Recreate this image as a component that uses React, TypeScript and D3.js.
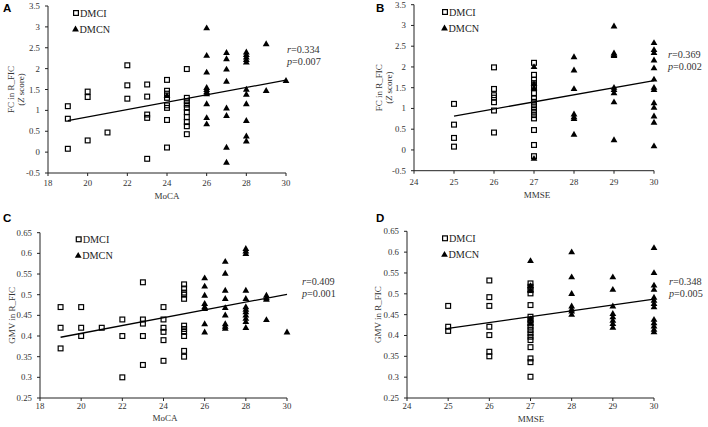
import React from "react";
import * as d3 from "d3";

// ---------- DATA ----------
type Col = [number, number[]];

// Panel A: MoCA vs FC in R_FIC
const moca_fc_dmci: Col[] = [
  [19, [1.1, 0.8, 0.08]],
  [20, [1.45, 1.32, 0.28]],
  [21, [0.47]],
  [22, [2.08, 1.6, 1.28]],
  [23, [1.62, 1.33, 0.9, 0.82, -0.16]],
  [24, [1.73, 1.47, 1.4, 1.3, 1.12, 1.06, 0.77, 0.11]],
  [25, [1.99, 1.3, 1.22, 1.14, 1.06, 0.96, 0.84, 0.72, 0.62, 0.43]],
];
const moca_fc_dmcn: Col[] = [
  [24, [1.36]],
  [26, [2.98, 2.32, 1.92, 1.55, 1.5, 1.45, 1.4, 1.16, 0.83, 0.68]],
  [27, [2.39, 2.24, 1.99, 1.7, 1.06, 0.88, 0.12, -0.24]],
  [28, [2.4, 2.34, 2.28, 2.22, 2.16, 1.51, 1.39, 1.16, 0.76, 0.39, 0.27]],
  [29, [2.6, 1.48]],
  [30, [1.72]],
];
const moca_fc_fit: [number, number][] = [[19, 0.756], [30, 1.724]];

// Panel B: MMSE vs FC in R_FIC
const mmse_fc_dmci: Col[] = [
  [25, [1.11, 0.61, 0.29, 0.08]],
  [26, [1.99, 1.47, 1.32, 1.26, 1.15, 0.95, 0.42]],
  [27, [2.1, 1.81, 1.69, 1.61, 1.49, 1.37, 1.24, 1.16, 1.08, 1.0, 0.92, 0.84, 0.76, 0.48, 0.12, -0.15]],
];
const mmse_fc_dmcn: Col[] = [
  [27, [2.01, 1.6, 1.5, -0.2]],
  [28, [2.25, 1.93, 1.48, 0.87, 0.8, 0.76, 0.38]],
  [29, [2.99, 2.34, 2.3, 2.28, 1.51, 1.46, 1.38, 1.16, 0.25]],
  [30, [2.59, 2.42, 2.35, 2.17, 1.98, 1.71, 1.51, 1.46, 1.14, 1.03, 0.82, 0.67, 0.1]],
];
const mmse_fc_fit: [number, number][] = [[25, 0.817], [30, 1.67]];

// Panel C: MoCA vs GMV in R_FIC
const moca_gmv_dmci: Col[] = [
  [19, [0.47, 0.42, 0.37]],
  [20, [0.47, 0.42, 0.4]],
  [21, [0.42]],
  [22, [0.44, 0.4, 0.3]],
  [23, [0.53, 0.44, 0.43, 0.4, 0.33]],
  [24, [0.47, 0.44, 0.42, 0.41, 0.39, 0.34]],
  [25, [0.525, 0.515, 0.505, 0.5, 0.49, 0.425, 0.417, 0.41, 0.4, 0.364, 0.35]],
];
const moca_gmv_dmcn: Col[] = [
  [26, [0.541, 0.521, 0.499, 0.479, 0.471, 0.467, 0.43, 0.41]],
  [27, [0.581, 0.552, 0.511, 0.491, 0.469, 0.451, 0.43, 0.424, 0.419]],
  [28, [0.612, 0.606, 0.6, 0.511, 0.491, 0.471, 0.465, 0.459, 0.451, 0.443, 0.435, 0.421]],
  [29, [0.499, 0.493, 0.489, 0.44]],
  [30, [0.41]],
];
const moca_gmv_fit: [number, number][] = [[19, 0.397], [30, 0.501]];

// Panel D: MMSE vs GMV in R_FIC
const mmse_gmv_dmci: Col[] = [
  [25, [0.471, 0.421, 0.411]],
  [26, [0.532, 0.492, 0.471, 0.421, 0.401, 0.361, 0.35]],
  [27, [0.525, 0.517, 0.509, 0.501, 0.473, 0.445, 0.437, 0.429, 0.421, 0.413, 0.405, 0.397, 0.389, 0.372, 0.345, 0.336, 0.301]],
];
const mmse_gmv_dmcn: Col[] = [
  [27, [0.58, 0.52, 0.51, 0.44, 0.43]],
  [28, [0.601, 0.541, 0.501, 0.471, 0.464, 0.459, 0.451]],
  [29, [0.541, 0.511, 0.471, 0.453, 0.445, 0.437, 0.429, 0.42]],
  [30, [0.611, 0.551, 0.521, 0.511, 0.492, 0.485, 0.477, 0.469, 0.439, 0.431, 0.423, 0.415, 0.409]],
];
const mmse_gmv_fit: [number, number][] = [[25, 0.417], [30, 0.487]];

// Ticks
const mocaTicks = [18, 20, 22, 24, 26, 28, 30];
const mmseTicks = [24, 25, 26, 27, 28, 29, 30];
const fcTicks = [-0.5, 0, 0.5, 1, 1.5, 2, 2.5, 3, 3.5];
const gmvTicks = [0.25, 0.3, 0.35, 0.4, 0.45, 0.5, 0.55, 0.6, 0.65];

const legendLabels = ["DMCI", "DMCN"];
const statsA = ["0.334", "0.007"];
const statsB = ["0.369", "0.002"];
const statsC = ["0.409", "0.001"];
const statsD = ["0.348", "0.005"];

// ---------- RENDER ----------
const SERIF = "'Liberation Serif', 'Times New Roman', serif";
const SANS = "'Liberation Sans', Arial, sans-serif";
const fmt = (v: number) => String(+v.toFixed(2));

const flat = (cols: Col[]) => cols.flatMap(([x, ys]) => ys.map((y) => [x, y] as [number, number]));

interface PanelProps {
  letter: string;
  letterPos: [number, number];
  left: number;
  right: number;
  top: number;
  bottom: number;
  xTicks: number[];
  yTicks: number[];
  dmci: Col[];
  dmcn: Col[];
  fit: [number, number][];
  xTitle: string;
  xTitlePos: [number, number];
  xTickBaseline: number;
  yTitle: React.ReactNode[];
  yTitleX: number[];
  legendPos: [number, number];
  stats: string[];
  statsPos: [number, number];
}

function Panel(p: PanelProps) {
  const x = d3.scaleLinear().domain([p.xTicks[0], p.xTicks[p.xTicks.length - 1]]).range([p.left, p.right]);
  const y = d3.scaleLinear().domain([p.yTicks[0], p.yTicks[p.yTicks.length - 1]]).range([p.bottom, p.top]);
  const tri = d3.symbol(d3.symbolTriangle, 20)()!;
  const line = d3.line<[number, number]>().x((d) => x(d[0])).y((d) => y(d[1]));
  const sq = 4.8;
  const yMid = (p.top + p.bottom) / 2;
  const [lx, ly] = p.legendPos;
  return (
    <g>
      <text x={p.letterPos[0]} y={p.letterPos[1]} fontFamily={SANS} fontWeight="bold" fontSize={11.5} fill="#000">
        {p.letter}
      </text>
      {/* axes */}
      <line x1={p.left} x2={p.left} y1={p.top} y2={p.bottom} stroke="#222" strokeWidth={1} />
      <line x1={p.left} x2={p.right} y1={p.bottom} y2={p.bottom} stroke="#222" strokeWidth={1} />
      {p.yTicks.map((t) => (
        <g key={"y" + t}>
          <line x1={p.left - 3} x2={p.left} y1={y(t)} y2={y(t)} stroke="#222" />
          <text x={p.left - 8} y={y(t) + 3} textAnchor="end" fontFamily={SERIF} fontSize={8.8} fill="#333">
            {fmt(t)}
          </text>
        </g>
      ))}
      {p.xTicks.map((t) => (
        <g key={"x" + t}>
          <line x1={x(t)} x2={x(t)} y1={p.bottom} y2={p.bottom + 3} stroke="#222" />
          <text x={x(t)} y={p.xTickBaseline} textAnchor="middle" fontFamily={SERIF} fontSize={8.8} fill="#333">
            {fmt(t)}
          </text>
        </g>
      ))}
      <text x={p.xTitlePos[0]} y={p.xTitlePos[1]} textAnchor="middle" fontFamily={SERIF} fontSize={9} fill="#333">
        {p.xTitle}
      </text>
      {p.yTitle.map((t, i) => (
        <text
          key={i}
          transform={`translate(${p.yTitleX[i] + 3},${yMid}) rotate(-90)`}
          textAnchor="middle"
          fontFamily={SERIF}
          fontSize={9}
          fill="#333"
        >
          {t}
        </text>
      ))}
      {/* data */}
      {flat(p.dmci).map(([a, b], i) => (
        <rect
          key={"s" + i}
          x={x(a) - sq / 2}
          y={y(b) - sq / 2}
          width={sq}
          height={sq}
          fill="none"
          stroke="#000"
          strokeWidth={1.2}
        />
      ))}
      {flat(p.dmcn).map(([a, b], i) => (
        <path key={"t" + i} d={tri} transform={`translate(${x(a)},${y(b) + 0.6})`} fill="#000" />
      ))}
      <path d={line(p.fit)!} stroke="#000" strokeWidth={1.3} fill="none" />
      {/* legend */}
      <rect x={lx - sq / 2} y={ly - sq / 2} width={sq} height={sq} fill="none" stroke="#000" strokeWidth={1.2} />
      <text x={lx + 4} y={ly + 4} fontFamily={SERIF} fontSize={10.2} fill="#222">
        {legendLabels[0]}
      </text>
      <path d={tri} transform={`translate(${lx - 0.5},${ly + 16.5})`} fill="#000" />
      <text x={lx + 3.5} y={ly + 20} fontFamily={SERIF} fontSize={10.2} fill="#222">
        {legendLabels[1]}
      </text>
      {/* stats */}
      <text x={p.statsPos[0]} y={p.statsPos[1]} fontFamily={SERIF} fontSize={10.2} fill="#333">
        <tspan fontStyle="italic">r</tspan>={p.stats[0]}
      </text>
      <text x={p.statsPos[0]} y={p.statsPos[1] + 12} fontFamily={SERIF} fontSize={10.2} fill="#333">
        <tspan fontStyle="italic">p</tspan>={p.stats[1]}
      </text>
    </g>
  );
}

const fcTitle = [
  "FC in R_FIC",
  <>
    (<tspan fontStyle="italic">Z</tspan> score)
  </>,
];

export default function App() {
  return (
    <svg
      width={708}
      height={427}
      style={{ position: "absolute", left: 0, top: 0, background: "#fff" }}
    >
      <rect width={708} height={427} fill="#fff" />
      <Panel
        letter="A"
        letterPos={[3, 11.5]}
        left={48}
        right={286}
        top={6}
        bottom={173}
        xTicks={mocaTicks}
        yTicks={fcTicks}
        dmci={moca_fc_dmci}
        dmcn={moca_fc_dmcn}
        fit={moca_fc_fit}
        xTitle="MoCA"
        xTitlePos={[167, 199]}
        xTickBaseline={186}
        yTitle={fcTitle}
        yTitleX={[11, 20.5]}
        legendPos={[76, 13]}
        stats={statsA}
        statsPos={[287, 53]}
      />
      <Panel
        letter="B"
        letterPos={[376, 11.5]}
        left={414}
        right={654}
        top={4.7}
        bottom={170.7}
        xTicks={mmseTicks}
        yTicks={fcTicks}
        dmci={mmse_fc_dmci}
        dmcn={mmse_fc_dmcn}
        fit={mmse_fc_fit}
        xTitle="MMSE"
        xTitlePos={[537, 198]}
        xTickBaseline={185}
        yTitle={fcTitle}
        yTitleX={[379, 388.5]}
        legendPos={[445, 12]}
        stats={statsB}
        statsPos={[668, 58]}
      />
      <Panel
        letter="C"
        letterPos={[3, 221.5]}
        left={40}
        right={287}
        top={232.7}
        bottom={398}
        xTicks={mocaTicks}
        yTicks={gmvTicks}
        dmci={moca_gmv_dmci}
        dmcn={moca_gmv_dmcn}
        fit={moca_gmv_fit}
        xTitle="MoCA"
        xTitlePos={[165, 421]}
        xTickBaseline={409}
        yTitle={["GMV in R_FIC"]}
        yTitleX={[12]}
        legendPos={[78.7, 239.3]}
        stats={statsC}
        statsPos={[302, 285]}
      />
      <Panel
        letter="D"
        letterPos={[376, 221.5]}
        left={407}
        right={654}
        top={231.3}
        bottom={398}
        xTicks={mmseTicks}
        yTicks={gmvTicks}
        dmci={mmse_gmv_dmci}
        dmcn={mmse_gmv_dmcn}
        fit={mmse_gmv_fit}
        xTitle="MMSE"
        xTitlePos={[531, 422]}
        xTickBaseline={409}
        yTitle={["GMV in R_FIC"]}
        yTitleX={[377.5]}
        legendPos={[445, 238.3]}
        stats={statsD}
        statsPos={[669, 285]}
      />
    </svg>
  );
}
